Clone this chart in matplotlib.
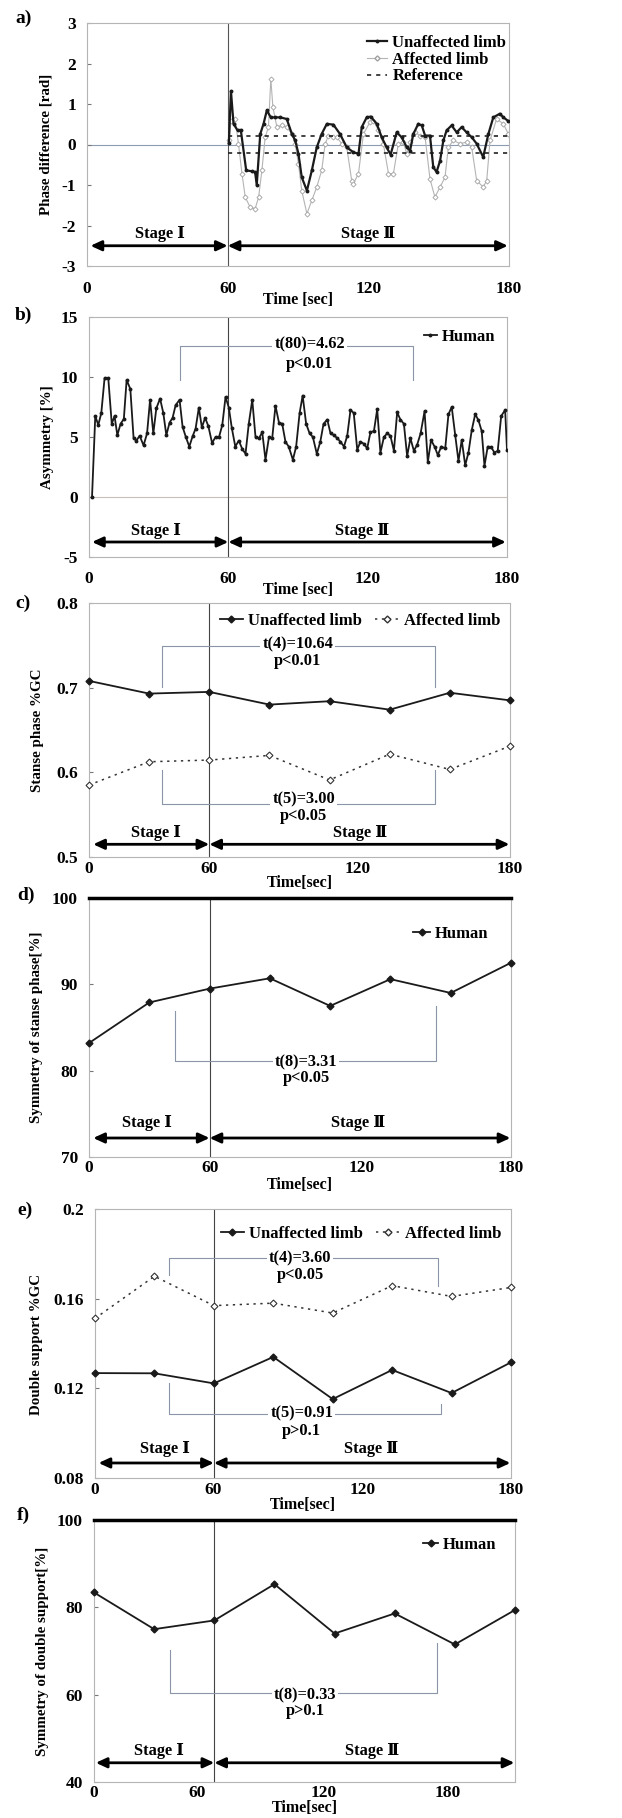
import numpy as np
import matplotlib
matplotlib.use("Agg")
import matplotlib.pyplot as plt
from matplotlib.lines import Line2D

plt.rcParams['font.family'] = ['Liberation Serif', 'DejaVu Serif', 'Noto Sans CJK JP']
plt.rcParams['font.weight'] = 'bold'
plt.rcParams['axes.labelweight'] = 'bold'

# ---------------- DATA ----------------
# a) phase difference
a_unaff_t = [60.5, 61.4, 62.5, 64.2, 65.6, 67.9, 70.3, 71.7, 72.4, 73.9, 75.3, 76.7, 78.4, 80.4, 82.4,
             85.2, 87.4, 88.8, 90.2, 91.6, 93.8, 95.9, 98.0, 100.1, 102.3, 105.1, 107.9, 110.8, 113.6,
             115.8, 117.2, 119.3, 121.0, 123.6, 125.7, 127.8, 129.5, 132.1, 134.2, 136.4, 137.8, 139.2,
             141.3, 142.8, 144.2, 146.3, 147.7, 149.1, 150.6, 152.0, 153.4, 155.5, 157.7, 159.8, 161.9,
             164.1, 166.2, 169.0, 171.2, 173.3, 176.1, 177.6, 179.7]
a_unaff_v = [0.03, 1.32, 0.51, 0.35, 0.36, -0.64, -0.66, -0.68, -1.0, 0.26, 0.51, 0.84, 0.67, 0.67, 0.67,
             0.63, 0.26, 0.10, -0.23, -0.81, -1.14, -0.64, -0.07, 0.26, 0.51, 0.49, 0.26, -0.07, -0.19,
             -0.23, 0.43, 0.67, 0.69, 0.51, 0.18, -0.07, -0.25, 0.30, 0.18, -0.07, -0.15, 0.26,
             0.51, 0.47, 0.22, 0.22, -0.56, -0.68, -0.40, 0.10, 0.35, 0.47, 0.30, 0.43, 0.30,
             0.18, 0.02, -0.31, 0.26, 0.67, 0.76, 0.67, 0.58]
a_aff_t = [60.5, 61.4, 63.2, 64.6, 66.1, 67.5, 69.6, 71.7, 73.2, 74.6, 76.0, 77.4, 78.4, 79.3, 81.0,
           83.1, 85.2, 87.4, 88.8, 90.2, 91.6, 93.8, 95.9, 98.0, 100.1, 101.6, 103.0, 105.1, 106.5,
           108.7, 110.8, 112.9, 113.6, 115.8, 117.9, 120.7, 122.2, 124.3, 126.4, 128.6, 130.7, 132.8,
           134.9, 136.4, 137.8, 139.9, 142.0, 144.2, 146.3, 148.4, 150.6, 152.7, 154.1, 156.3, 159.1,
           161.9, 164.1, 166.2, 169.0, 170.5, 171.9, 174.7, 177.6, 179.7]
a_aff_v = [0.10, 0.59, 0.63, 0.02, -0.72, -1.30, -1.55, -1.59, -1.30, -0.64, 0.18, 0.43, 1.62, 0.92, 0.43,
           0.47, 0.43, 0.26, 0.02, -0.48, -1.14, -1.71, -1.38, -1.05, -0.64, 0.02, 0.22, 0.18, 0.18,
           0.02, -0.07, -0.89, -0.97, -0.72, 0.26, 0.55, 0.59, 0.35, 0.02, -0.72, -0.72, 0.02,
           0.06, -0.23, 0.06, 0.30, 0.22, 0.18, -0.85, -1.30, -1.05, -0.81, -0.07, 0.10, 0.02,
           0.06, -0.07, -0.89, -1.05, -0.89, 0.10, 0.63, 0.51, 0.26]
a_ref_t = [60, 180]
a_ref_v = [0.2, -0.2]

# b) asymmetry
b_t = [1.3, 2.7, 4.0, 5.3, 6.7, 8.3, 9.8, 11.0, 12.2, 13.6, 15.0, 16.2, 17.8, 19.2, 20.4, 21.8, 23.5,
       25.0, 26.3, 27.7, 29.0, 30.6, 32.0, 33.3, 34.7, 36.0, 37.3, 39.0, 40.3, 41.7, 43.2, 44.6, 45.9,
       47.3, 48.6, 50.0, 51.4, 53.0, 54.5, 56.0, 57.4, 58.8, 60.2, 61.5, 63.0, 64.5, 66.0, 67.4, 68.8,
       70.3, 71.7, 73.2, 74.6, 76.0, 77.5, 78.9, 80.3, 81.8, 83.2, 84.6, 86.0, 87.8, 89.2, 90.7, 92.0,
       93.5, 95.0, 96.4, 98.1, 99.6, 101.0, 102.6, 104.0, 105.5, 106.9, 108.3, 109.8, 111.2, 112.6,
       114.0, 115.5, 116.9, 118.3, 119.8, 121.2, 122.7, 124.1, 125.5, 127.0, 128.4, 129.8, 131.3,
       132.7, 134.1, 135.6, 137.0, 138.4, 139.9, 141.3, 142.8, 144.5, 145.9, 147.3, 148.8, 150.2,
       151.7, 153.4, 154.8, 156.2, 157.7, 159.1, 160.5, 162.0, 163.4, 164.8, 166.3, 167.7, 169.1,
       170.3, 171.7, 173.2, 174.6, 176.0, 177.5, 179.2, 180.0]
b_v = [0.0, 6.75, 6.0, 7.0, 9.9, 9.9, 6.1, 6.75, 5.15, 6.1, 6.5, 9.75, 9.0, 4.9, 4.7, 5.1, 4.3,
       5.3, 8.1, 5.3, 7.4, 8.2, 7.0, 5.15, 6.2, 6.6, 7.65, 8.1, 5.85, 5.0, 4.2, 5.05, 5.7,
       7.45, 5.8, 6.6, 5.9, 4.5, 5.0, 5.0, 6.0, 8.35, 7.45, 5.75, 4.2, 4.7, 4.0, 3.6, 6.1,
       8.1, 5.0, 4.9, 5.4, 3.1, 5.0, 4.9, 7.6, 6.2, 6.1, 4.6, 4.2, 3.1, 4.2, 7.0, 8.45,
       6.1, 5.3, 5.0, 3.6, 4.6, 6.1, 6.45, 5.3, 5.15, 4.9, 4.6, 4.2, 5.1, 7.25,
       7.0, 3.95, 4.6, 4.45, 4.05, 5.4, 5.5, 7.3, 3.7, 5.0, 5.3, 5.1, 3.85,
       7.05, 6.45, 6.1, 3.4, 4.9, 3.85, 4.35, 5.3, 7.15, 2.9, 4.75, 4.2, 3.5,
       4.2, 4.05, 6.9, 7.5, 5.15, 3.0, 4.75, 2.65, 3.7, 5.55, 6.9, 6.4, 5.5,
       2.6, 4.2, 4.15, 3.7, 3.85, 6.75, 7.25, 3.9]

# c) stance phase (8 sessions)
sessions = np.arange(8)
c_unaff = [0.708, 0.693, 0.695, 0.680, 0.684, 0.674, 0.694, 0.685]
c_aff = [0.585, 0.6125, 0.6145, 0.620, 0.591, 0.6215, 0.6034, 0.631]
# d) symmetry of stance phase
d_human = [83.2, 87.9, 89.5, 90.7, 87.5, 90.6, 89.0, 92.5]
# e) double support
e_unaff = [0.1268, 0.1267, 0.1222, 0.1340, 0.1152, 0.1282, 0.1179, 0.1316]
e_aff = [0.1512, 0.1700, 0.1569, 0.1580, 0.1536, 0.1658, 0.1610, 0.1650]
# f) symmetry of double support
f_human = [83.4, 75.0, 77.0, 85.3, 74.0, 78.6, 71.5, 79.4]

time_labels = ['0', '60', '120', '180']

# ---------------- LAYOUT ----------------
W, H = 622, 1818
fig = plt.figure(figsize=(W / 100, H / 100), dpi=100)


def rect(l, t, r, b):
    return [l / W, 1 - b / H, (r - l) / W, (b - t) / H]


def ftext(x, y, s, **kw):
    fig.text(x / W, 1 - y / H, s, **kw)


SPINE = '#b5b5b5'
BRK = '#8a96a8'
TICK_FS = 12.5
LEG_FS = 12
ANN_FS = 11.8
STG_FS = 11.8
YL_FS = 10.8
XL_FS = 11.5
LET_FS = 14


def style(ax, ylim, yticks, ylabels, xticks, xlabels, xpad):
    ax.set_ylim(*ylim)
    for s in ax.spines.values():
        s.set_color(SPINE)
        s.set_linewidth(0.8)
    ax.set_yticks(yticks)
    ax.set_yticklabels(ylabels, fontsize=TICK_FS, fontweight='bold')
    ax.set_xticks(xticks)
    ax.set_xticklabels(xlabels, fontsize=TICK_FS, fontweight='bold')
    ax.tick_params(axis='y', direction='in', length=3, color='#777777', pad=8)
    ax.tick_params(axis='x', length=0, pad=xpad)


def stage_arrows(ax, x0, xm, x1, y, ty, tx1, tx2):
    kw = dict(arrowstyle='<|-|>,head_length=0.65,head_width=0.3', lw=2.0, color='black',
              shrinkA=0, shrinkB=0)
    ax.annotate('', xy=(x0, y), xytext=(xm, y), arrowprops=kw)
    ax.annotate('', xy=(xm, y), xytext=(x1, y), arrowprops=kw)
    ax.text(tx1, ty, 'Stage Ⅰ', ha='center', va='center', fontsize=STG_FS, fontweight='bold')
    ax.text(tx2, ty, 'Stage Ⅱ', ha='center', va='center', fontsize=STG_FS, fontweight='bold')


def bracket(ax, x0, x1, ybar, yl, yr, t1, t2, tx, ty1, ty2):
    ax.plot([x0, x0, x1, x1], [yl, ybar, ybar, yr], color=BRK, lw=0.8, zorder=1)
    ax.text(tx, ty1, t1, ha='center', va='center', fontsize=ANN_FS, fontweight='bold', zorder=5,
            bbox=dict(facecolor='white', edgecolor='none', pad=1.5))
    ax.text(tx, ty2, t2, ha='center', va='center', fontsize=ANN_FS, fontweight='bold', zorder=5)


# ---- a) ----
ax = fig.add_axes(rect(87, 23, 509, 266))
ax.set_xlim(0, 180)
style(ax, (-3, 3), range(-3, 4), [str(v) for v in range(-3, 4)],
      [0, 60, 120, 180], time_labels, 11)
ax.axhline(0, color='#8d9bb0', lw=0.8, zorder=1)
ax.axvline(60, color='#555555', lw=0.8, zorder=1)
ax.plot(a_aff_t, a_aff_v, color='#b4b4b4', lw=0.8, marker='D', ms=2.6, mfc='white',
        mec='#a0a0a0', mew=0.6, zorder=2)
ax.plot(a_unaff_t, a_unaff_v, color='#1a1a1a', lw=1.6, marker='o', ms=1.8, zorder=3)
for v in a_ref_v:
    ax.plot(a_ref_t, [v, v], color='#222222', lw=1.2, ls=(0, (2.5, 3)), zorder=2)
hdl = [Line2D([], [], color='#1a1a1a', lw=1.6, marker='o', ms=1.8),
       Line2D([], [], color='#b4b4b4', lw=0.8, marker='D', ms=2.6, mfc='white', mec='#a0a0a0'),
       Line2D([], [], color='#222222', lw=1.2, ls=(0, (2.5, 3)))]
ax.legend(hdl, ['Unaffected limb', 'Affected limb', 'Reference'], loc='upper left',
          bbox_to_anchor=(0.635, 1.0), frameon=False, handlelength=1.25,
          handletextpad=0.3, labelspacing=0.05, borderaxespad=0.3,
          prop={'weight': 'bold', 'size': LEG_FS})
stage_arrows(ax, 1.5, 60, 179.5, -2.5, -2.2, 31, 120)
ftext(15, 18, 'a)', fontsize=LET_FS, fontweight='bold', ha='left', va='center')
ftext(298, 300, 'Time [sec]', fontsize=XL_FS, fontweight='bold', ha='center', va='center')
ftext(46, 144, 'Phase difference [rad]', fontsize=YL_FS, fontweight='bold', rotation=90,
      ha='center', va='center')

# ---- b) ----
ax = fig.add_axes(rect(89, 317, 507, 557))
ax.set_xlim(0, 180)
style(ax, (-5, 15), [-5, 0, 5, 10, 15], ['-5', '0', '5', '10', '15'],
      [0, 60, 120, 180], time_labels, 10)
ax.axhline(0, color='#c8c0b8', lw=0.8, zorder=1)
ax.axvline(60, color='#444444', lw=0.8, zorder=1)
ax.plot(b_t, b_v, color='#1a1a1a', lw=1.3, marker='o', ms=1.8, zorder=3)
ax.legend([Line2D([], [], color='#1a1a1a', lw=1.3, marker='o', ms=1.8)], ['Human'],
          loc='upper right', bbox_to_anchor=(1.0, 1.0), frameon=False, handlelength=0.8,
          handletextpad=0.3, borderaxespad=0.3, prop={'weight': 'bold', 'size': LEG_FS})
bracket(ax, 39, 139.5, 12.6, 9.75, 9.75, 't(80)=4.62', 'p<0.01', 95, 12.75, 11.1)
stage_arrows(ax, 1.3, 60, 179.5, -3.75, -2.8, 29, 117.5)
ftext(15, 315, 'b)', fontsize=LET_FS, fontweight='bold', ha='left', va='center')
ftext(298, 590, 'Time [sec]', fontsize=XL_FS, fontweight='bold', ha='center', va='center')
ftext(47, 437, 'Asymmetry [%]', fontsize=YL_FS, fontweight='bold', rotation=90,
      ha='center', va='center')

# ---- c) ----
ax = fig.add_axes(rect(89, 603, 510, 857))
ax.set_xlim(0, 7)
style(ax, (0.5, 0.8), [0.5, 0.6, 0.7, 0.8], ['0.5', '0.6', '0.7', '0.8'],
      [0, 2.0, 4.46, 7.0], time_labels, 3)
ax.axvline(2, color='#444444', lw=0.8, zorder=1)
ax.plot(sessions, c_unaff, color='#1a1a1a', lw=1.3, marker='D', ms=3.5, zorder=3, clip_on=False)
ax.plot(sessions, c_aff, color='#333333', lw=1.1, ls=(0, (1.5, 3)), marker='D', ms=3.5,
        mfc='white', mec='#333333', mew=0.8, zorder=3, clip_on=False)
hdl = [Line2D([], [], color='#1a1a1a', lw=1.3, marker='D', ms=3.5),
       Line2D([], [], color='#333333', lw=1.1, ls=(0, (1.5, 3)), marker='D', ms=3.5,
              mfc='white', mec='#333333')]
ax.legend(hdl, ['Unaffected limb', 'Affected limb'], loc='upper right', ncol=2,
          bbox_to_anchor=(1.0, 1.0), frameon=False, handlelength=1.4, columnspacing=0.8,
          handletextpad=0.3, borderaxespad=0.2, prop={'weight': 'bold', 'size': LEG_FS})
bracket(ax, 1.22, 5.76, 0.749, 0.701, 0.701, 't(4)=10.64', 'p<0.01', 3.47, 0.751, 0.731)
bracket(ax, 1.22, 5.76, 0.563, 0.603, 0.603, 't(5)=3.00', 'p<0.05', 3.57, 0.568, 0.549)
stage_arrows(ax, 0.07, 2.0, 6.99, 0.515, 0.528, 1.12, 4.5)
ftext(15, 603, 'c)', fontsize=LET_FS, fontweight='bold', ha='left', va='center')
ftext(300, 883, 'Time[sec]', fontsize=XL_FS, fontweight='bold', ha='center', va='center')
ftext(38, 730, 'Stanse phase %GC', fontsize=YL_FS, fontweight='bold', rotation=90,
      ha='center', va='center')

# ---- d) ----
ax = fig.add_axes(rect(89, 898, 511, 1157))
ax.set_xlim(0, 7)
style(ax, (70, 100), [70, 80, 90, 100], ['70', '80', '90', '100'],
      [0, 2.0, 4.53, 7.0], time_labels, 2)
ax.axhline(100, color='black', lw=2.5, zorder=4, clip_on=False)
ax.axvline(2, color='#444444', lw=0.8, zorder=1)
ax.plot(sessions, d_human, color='#1a1a1a', lw=1.3, marker='D', ms=3.5, zorder=3, clip_on=False)
ax.legend([Line2D([], [], color='#1a1a1a', lw=1.3, marker='D', ms=3.5)], ['Human'],
          loc='upper right', bbox_to_anchor=(0.97, 0.93), frameon=False, handlelength=1.0,
          handletextpad=0.3, borderaxespad=0.2, prop={'weight': 'bold', 'size': LEG_FS})
bracket(ax, 1.42, 5.76, 81.1, 86.9, 87.5, 't(8)=3.31', 'p<0.05', 3.6, 81.0, 79.1)
stage_arrows(ax, 0.07, 2.0, 6.99, 72.2, 73.9, 0.96, 4.46)
ftext(17, 895, 'd)', fontsize=LET_FS, fontweight='bold', ha='left', va='center')
ftext(300, 1185, 'Time[sec]', fontsize=XL_FS, fontweight='bold', ha='center', va='center')
ftext(37, 1027, 'Symmetry of stanse phase[%]', fontsize=YL_FS, fontweight='bold', rotation=90,
      ha='center', va='center')

# ---- e) ----
ax = fig.add_axes(rect(95, 1209, 511, 1478))
ax.set_xlim(0, 7)
style(ax, (0.08, 0.2), [0.08, 0.12, 0.16, 0.2], ['0.08', '0.12', '0.16', '0.2'],
      [0, 1.99, 4.5, 7.0], time_labels, 3)
ax.axvline(2, color='#444444', lw=0.8, zorder=1)
ax.plot(sessions, e_unaff, color='#1a1a1a', lw=1.3, marker='D', ms=3.5, zorder=3, clip_on=False)
ax.plot(sessions, e_aff, color='#333333', lw=1.1, ls=(0, (1.5, 3)), marker='D', ms=3.5,
        mfc='white', mec='#333333', mew=0.8, zorder=3, clip_on=False)
hdl = [Line2D([], [], color='#1a1a1a', lw=1.3, marker='D', ms=3.5),
       Line2D([], [], color='#333333', lw=1.1, ls=(0, (1.5, 3)), marker='D', ms=3.5,
              mfc='white', mec='#333333')]
ax.legend(hdl, ['Unaffected limb', 'Affected limb'], loc='upper right', ncol=2,
          bbox_to_anchor=(1.0, 0.975), frameon=False, handlelength=1.4, columnspacing=0.8,
          handletextpad=0.3, borderaxespad=0.2, prop={'weight': 'bold', 'size': LEG_FS})
bracket(ax, 1.25, 5.77, 0.178, 0.1707, 0.1655, 't(4)=3.60', 'p<0.05', 3.45, 0.178, 0.1707)
bracket(ax, 1.25, 5.82, 0.1087, 0.1224, 0.1131, 't(5)=0.91', 'p>0.1', 3.48, 0.1087, 0.1008)
stage_arrows(ax, 0.06, 2.0, 6.99, 0.0867, 0.093, 1.18, 4.65)
ftext(17, 1210, 'e)', fontsize=LET_FS, fontweight='bold', ha='left', va='center')
ftext(303, 1505, 'Time[sec]', fontsize=XL_FS, fontweight='bold', ha='center', va='center')
ftext(37, 1344, 'Double support %GC', fontsize=YL_FS, fontweight='bold', rotation=90,
      ha='center', va='center')

# ---- f) ----
ax = fig.add_axes(rect(94, 1520, 515, 1782))
ax.set_xlim(0, 7)
style(ax, (40, 100), [40, 60, 80, 100], ['40', '60', '80', '100'],
      [0, 1.71, 3.82, 5.88], time_labels, 2)
ax.axhline(100, color='black', lw=2.5, zorder=4, clip_on=False)
ax.axvline(2, color='#444444', lw=0.8, zorder=1)
ax.plot(sessions, f_human, color='#1a1a1a', lw=1.3, marker='D', ms=3.5, zorder=3, clip_on=False)
ax.legend([Line2D([], [], color='#1a1a1a', lw=1.3, marker='D', ms=3.5)], ['Human'],
          loc='upper right', bbox_to_anchor=(0.98, 0.975), frameon=False, handlelength=0.9,
          handletextpad=0.3, borderaxespad=0.2, prop={'weight': 'bold', 'size': LEG_FS})
bracket(ax, 1.26, 5.7, 60.3, 70.2, 71.9, 't(8)=0.33', 'p>0.1', 3.51, 59.9, 56.3)
stage_arrows(ax, 0.03, 2.0, 6.99, 44.4, 47.1, 1.08, 4.62)
ftext(17, 1515, 'f)', fontsize=LET_FS, fontweight='bold', ha='left', va='center')
ftext(305, 1808, 'Time[sec]', fontsize=XL_FS, fontweight='bold', ha='center', va='center')
ftext(43, 1651, 'Symmetry of double support[%]', fontsize=YL_FS, fontweight='bold', rotation=90,
      ha='center', va='center')

fig.savefig('out.png', dpi=100)
